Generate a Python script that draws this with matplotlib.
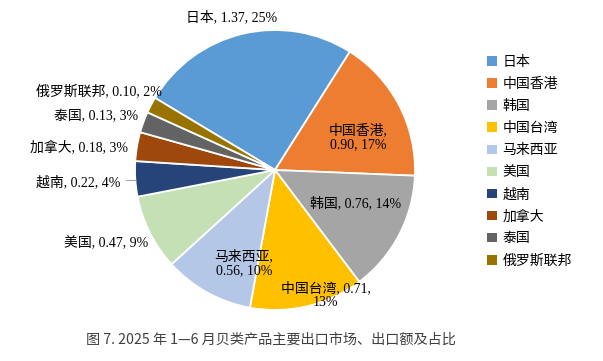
import numpy as np
import matplotlib
matplotlib.use("Agg")
import matplotlib.pyplot as plt
from matplotlib.patches import Patch

categories = ["日本", "中国香港", "韩国", "中国台湾", "马来西亚", "美国", "越南", "加拿大", "泰国", "俄罗斯联邦"]
values = [1.37, 0.90, 0.76, 0.71, 0.56, 0.47, 0.22, 0.18, 0.13, 0.10]
percents = [25, 17, 14, 13, 10, 9, 4, 3, 3, 2]
title = "图 7. 2025 年 1—6 月贝类产品主要出口市场、出口额及占比"

colors = ["#5B9BD5", "#ED7D31", "#A5A5A5", "#FFC000", "#B4C7E7",
          "#C5E0B4", "#264478", "#9E480E", "#636363", "#997300"]

# label anchor positions (axes data units, pie radius = 1), alignment, line break
label_pos = [(-0.307, 1.093, "center", False),
             (0.593, 0.236, "center", True),
             (0.579, -0.236, "center", False),
             (0.364, -0.893, "center", "tw"),
             (-0.221, -0.664, "center", True),
             (-0.907, -0.521, "right", False),
             (-1.107, -0.086, "right", False),
             (-1.05, 0.164, "right", False),
             (-0.979, 0.379, "right", False),
             (-0.807, 0.564, "right", False)]

W, H = 603, 361
fig = plt.figure(figsize=(W / 100, H / 100), dpi=100)
cx, cy, R = 275, 170, 140
ax = fig.add_axes([(cx - R) / W, (H - cy - R) / H, 2 * R / W, 2 * R / H])
ax.set_xlim(-1, 1)
ax.set_ylim(-1, 1)
ax.set_aspect("equal")
ax.axis("off")

wedges, _ = ax.pie(values, colors=colors, startangle=149, counterclock=False,
                   radius=1, wedgeprops=dict(edgecolor="white", linewidth=1.3))
ax.set_xlim(-1, 1)
ax.set_ylim(-1, 1)

lab_font = ["Liberation Serif", "Noto Sans CJK SC"]
for cat, v, p, (x, y, ha, brk) in zip(categories, values, percents, label_pos):
    if brk is True:
        s = f"{cat},\n{v:.2f}, {p}%"
    elif brk == "tw":
        s = f"{cat}, {v:.2f},\n{p}%"
    else:
        s = f"{cat}, {v:.2f}, {p}%"
    ax.text(x, y, s, ha=ha, va="center", fontsize=10, family=lab_font,
            color="black", linespacing=1.1, clip_on=False)

# leader line for 越南
ax.plot([(126 - cx) / R, (135 - cx) / R], [(cy - 180) / R, (cy - 180) / R],
        color="#A6A6A6", lw=0.8, clip_on=False)

handles = [Patch(facecolor=c, edgecolor="none") for c in colors]
fig.legend(handles, categories, loc="upper left", bbox_to_anchor=(487 / W, 1 - 55 / H),
           frameon=False, prop={"family": "Noto Sans CJK SC", "size": 10},
           handlelength=0.7, handleheight=0.7, handletextpad=0.4,
           labelspacing=0.58, borderpad=0, borderaxespad=0)

fig.text(271 / W, 1 - 340 / H, title, ha="center", va="center", fontsize=10.2,
         family=["Noto Sans CJK SC", "DejaVu Sans"], color="#404040")

fig.savefig("out.png", dpi=100, facecolor="white")
